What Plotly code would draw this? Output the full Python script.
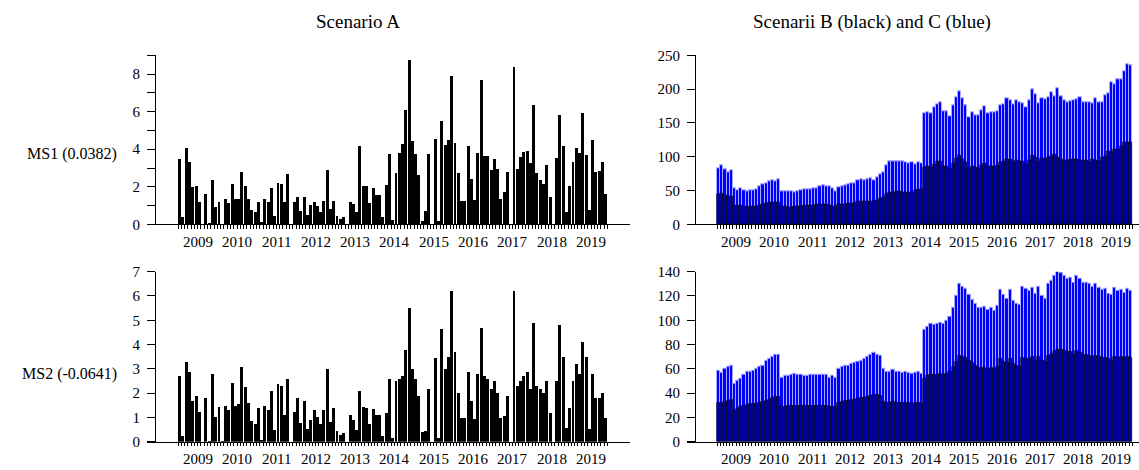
import plotly.graph_objects as go

# ---------------- data (monthly, Jan 2009 - Nov 2019) ----------------
years = list(range(2009, 2020))
n_months = 131

a_ms1 = [3.45, 0.35, 4.05, 3.3, 1.95, 2.0, 1.2, 0, 1.6, 0.05,
         2.35, 0.9, 1.2, 0, 1.35, 1.1, 2.15, 1.35, 1.35, 2.75,
         2.05, 1.35, 0.75, 0.65, 1.15, 0.1, 1.35, 1.15, 1.9, 0.45,
         2.2, 2.15, 1.15, 2.65,
         0, 1.2, 1.45, 0.7, 1.45, 0.5, 1.0, 1.2, 0.95, 0.65, 1.25,
         2.9, 0.8, 1.25, 0.45, 0.25, 0.35, 0, 1.15, 1.05, 0.65, 4.15,
         2.05, 2.0, 1.1, 1.9, 1.55, 1.55,
         0.35, 2.1, 3.75, 0.2, 2.7, 3.8, 4.25, 6.05, 8.75, 4.4,
         3.75, 2.6, 0.15, 0.7, 3.75, 0, 4.55, 0.15, 5.5, 4.2,
         4.45, 7.9, 4.3, 2.7, 1.25, 1.25, 4.15, 2.4, 1.3, 3.8,
         7.65, 3.6, 3.6, 2.9, 3.45, 2.95, 1.35, 1.7, 2.75, 0,
         8.35, 2.95, 3.55, 3.85, 3.9, 3.25, 6.35, 2.7, 2.35, 2.15,
         3.15, 1.45, 0, 3.5, 5.8, 4.15, 0.65, 2.0, 3.3, 4.05,
         3.8, 5.9, 3.65, 0.75, 4.45, 2.75, 2.85, 3.3, 1.6]

a_ms2 = [2.7, 0.25, 3.3, 2.9, 1.7, 1.9, 1.25, 0, 1.8, 0.05,
         2.8, 1.05, 1.45, 0.05, 1.5, 1.3, 2.45, 1.5, 1.55, 3.1,
         2.25, 1.6, 0.85, 0.75, 1.4, 0.07, 1.5, 1.3, 2.1, 0.5,
         2.4, 2.3, 1.13, 2.6,
         0, 1.24, 1.8, 0.8, 1.7, 0.53, 0.9, 1.3, 1.03, 0.73, 1.33,
         3.0, 0.84, 1.38, 0.47, 0.27, 0.36, 0, 1.11, 0.91, 0.51, 2.1,
         1.44, 1.4, 0.76, 1.37, 1.1, 1.1,
         0.23, 1.2, 2.6, 0.16, 2.5, 2.6, 2.7, 3.8, 5.5, 3.0,
         2.6, 1.9, 0.4, 0.47, 2.2, 0, 3.45, 0.16, 4.65, 3.0,
         3.5, 6.2, 3.7, 2.0, 0.97, 0.97, 2.9, 1.67, 0.96, 2.8,
         4.7, 2.7, 2.6, 2.2, 2.5, 2.0, 0.97, 1.07, 1.9, 0,
         6.2, 2.3, 2.5, 2.7, 2.9, 2.2, 4.9, 2.3, 2.2, 2.0,
         2.5, 1.2, 0, 2.5, 4.8, 3.5, 0.56, 1.4, 2.5, 3.2,
         2.8, 4.1, 3.5, 0.53, 2.8, 1.8, 1.8, 2.0, 0.97]

c_ms1 = [82.7, 87, 82, 77.5, 80, 53, 51, 53, 51, 48.5,
         50.4, 51, 52, 55.6, 59, 61.3, 63.7, 64.6, 64, 66,
         49, 48.5, 48.5, 49, 47.5, 49, 51, 52, 52, 52,
         53, 53, 56, 57.5, 57, 55.6, 53, 49, 55, 56.5,
         57.5, 58.5, 61, 61, 65.6, 66.5, 65, 66.5, 67.5, 65,
         69.4, 73.7, 77.5, 87, 93, 93, 93, 93.6,
         92.7, 92, 91, 92, 89, 92, 91,
         164.5, 166, 163.5, 173.5, 178, 180.6, 166.8, 166.8, 160, 176,
         187.7, 197, 186, 176, 159, 165.4, 162, 160.6, 168, 174,
         164.5, 166, 165, 166.8, 176, 178, 186, 184, 177, 183,
         181, 179, 173, 183, 199.6, 192, 179.7, 187, 185, 188,
         195, 190, 200.6, 190, 183.5, 180.6, 182, 184, 185, 187.7,
         180.6, 180.6, 181, 178.7, 186, 181, 180.6, 191.5, 194, 210,
         207, 214, 215, 225.8, 236, 235]

b_ms1 = [43.7, 45.6, 43, 41, 42, 28, 27.6, 27.6, 26.6, 25.7,
         26.6, 26.6, 27, 28.5, 29.5, 31, 32, 32.3, 32.3, 32.8,
         26, 26, 25.7, 25.7, 26, 26.6, 27, 27.6, 27.6, 27.6,
         28, 29, 29.5, 29.5, 29, 28.5, 27, 26, 29, 29.5,
         30, 30.4, 31.4, 31.4, 33.7, 34.2, 33.7, 34.2, 34.7, 34.2,
         36, 38.5, 40, 44, 47.5, 48, 48.5, 48.5,
         48, 48, 47.5, 46.5, 50, 52, 52,
         85, 86.5, 84.6, 89.4, 92.7, 93.6, 86.5, 86.5, 83, 90.3,
         97.4, 101.7, 95.5, 91.7, 83, 86, 84.6, 83, 88, 90.3,
         85.5, 86, 85.5, 87, 91.7, 92.7, 96, 95.5, 91.7, 94,
         93.6, 93, 89.4, 94, 102.7, 98.9, 93, 97.4, 96.5, 99.8,
         100.3, 104, 98.9, 95.5, 94, 94.6, 95.5, 96, 96.5, 94,
         94.6, 94.6, 91.7, 95.5, 94, 93.6, 98.9, 100.3, 108, 107,
         110.7, 111.7, 115.5, 121, 122, 121.7]

c_ms2 = [58.3, 56.7, 60.4, 61.7, 62.3, 47.4, 50, 52.2, 54.8, 57.8,
         58, 58.8, 60.2, 61.7, 63, 67, 68.4, 69.7, 71.9, 72,
         52.4, 54, 54.6, 55.4, 56.2, 54.8, 55, 54.6, 54.3, 55.4,
         55, 55,
         55, 55.5, 55, 53, 54, 53, 60, 62, 63, 63,
         64, 65, 66, 67, 68, 70, 72, 73, 72, 71,
         60, 58, 58, 59, 58, 58, 57, 58, 57, 56,
         57, 58, 56,
         92, 95, 97, 96, 97, 98, 97, 100, 103, 110, 120, 130,
         128, 126, 121, 117, 114, 110, 110, 111, 109, 110, 108, 112,
         125, 121, 118, 125, 116, 114, 113, 128, 126, 124, 127, 122,
         128, 120, 118, 130, 133, 137, 140, 139, 137, 134, 135, 131,
         137, 134, 131, 131, 130, 128, 130, 127, 125, 126, 122, 121,
         127, 124, 125, 123, 126, 124]

b_ms2 = [32.2, 31.7, 33.3, 34, 34.3, 25.8, 26.9, 28.5, 29.5, 30.6,
         30.9, 30.9, 31.4, 32.2, 33, 34, 34.9, 35.9, 36.7, 36.7,
         28.5, 29, 29.5, 29.5, 29.5, 29.3, 29.5, 29.3, 29.3, 29.5,
         29.5, 29.5,
         29.5, 29.8, 29.5, 28.5, 29, 28.5, 32, 33, 33.5, 34,
         34.5, 35, 35.5, 36, 36.5, 37, 38, 39, 38.5, 38,
         33, 32.5, 32.5, 33, 32.5, 32.5, 32, 32.5, 32, 31.5,
         32, 32.5, 31.5,
         52, 54, 55, 55, 55, 56, 55, 56, 58, 62, 66, 71,
         70, 69, 67, 65, 63, 61, 61, 61, 60, 61, 60, 62,
         68, 66, 65, 68, 64, 63, 62, 69, 68, 68, 70, 67,
         70, 67, 66, 71, 72, 74, 76, 76, 75, 74, 74, 72,
         75, 73, 72, 72, 71, 70, 71, 70, 69, 69, 68, 67,
         70, 69, 70, 69, 70, 69]

title_left = "Scenario A"
title_right = "Scenarii B (black) and C (blue)"
row_labels = ["MS1 (0.0382)", "MS2 (-0.0641)"]

# ---------------- figure ----------------
W, H = 1139, 470
FONT = "Liberation Serif"
FS = 15
FS_ROW = 16
FS_TITLE = 19

xs = [i + 0.5 for i in range(n_months)]

def px(v):
    return v / W

def py(v):
    return 1 - v / H

fig = go.Figure()

fig.add_trace(go.Bar(x=xs, y=a_ms1, xaxis="x", yaxis="y", width=0.9,
                     marker=dict(color="black", line=dict(width=0)), showlegend=False))
fig.add_trace(go.Bar(x=xs, y=c_ms1, xaxis="x2", yaxis="y2", width=1.0,
                     marker=dict(color="#0000ff", line=dict(color="#a9a9ff", width=1)), showlegend=False))
fig.add_trace(go.Bar(x=xs, y=b_ms1, xaxis="x2", yaxis="y2", width=1.0,
                     marker=dict(color="#0000a8", line=dict(color="black", width=0.6)), showlegend=False))
fig.add_trace(go.Bar(x=xs, y=a_ms2, xaxis="x3", yaxis="y3", width=0.9,
                     marker=dict(color="black", line=dict(width=0)), showlegend=False))
fig.add_trace(go.Bar(x=xs, y=c_ms2, xaxis="x4", yaxis="y4", width=1.0,
                     marker=dict(color="#0000ff", line=dict(color="#a9a9ff", width=1)), showlegend=False))
fig.add_trace(go.Bar(x=xs, y=b_ms2, xaxis="x4", yaxis="y4", width=1.0,
                     marker=dict(color="#0000a8", line=dict(color="black", width=0.6)), showlegend=False))

year_starts = [12 * k for k in range(1, len(years))]

def xaxis_cfg(dom_px, first_px, scale, anchor):
    lo = (dom_px[0] - first_px) / scale
    hi = (dom_px[1] - first_px) / scale
    return dict(domain=[px(dom_px[0]), px(dom_px[1])], range=[lo, hi], anchor=anchor,
                showline=True, linecolor="black", linewidth=1, mirror=False,
                showgrid=False, zeroline=False,
                tickmode="array", tickvals=year_starts, ticktext=[""] * len(year_starts),
                ticks="outside", ticklen=7, tickwidth=1, tickcolor="black",
                minor=dict(tickmode="array", tickvals=list(range(0, n_months + 1)),
                           ticks="outside", ticklen=3.5, tickwidth=1, tickcolor="black",
                           showgrid=False),
                fixedrange=True)

def yaxis_cfg(dom_px, rng, tickvals, ticktext, pos_px):
    return dict(domain=[py(dom_px[1]), py(dom_px[0])], range=rng, anchor="free",
                position=px(pos_px), showline=True, linecolor="black", linewidth=1,
                showgrid=False, zeroline=False, tickmode="array", tickvals=tickvals,
                ticktext=ticktext, ticks="outside", ticklen=8, tickwidth=1,
                tickcolor="black", ticklabelstandoff=4,
                tickfont=dict(family=FONT, size=FS, color="black"), fixedrange=True)

top_row = (49, 224)
bot_row = (273, 449)
left_dom = (147, 630)
right_dom = (687, 1139)
left_first, left_scale = 178, 3.278
right_first, right_scale = 717, 3.17

fig.update_layout(
    width=W, height=H, margin=dict(l=0, r=0, t=0, b=0),
    paper_bgcolor="white", plot_bgcolor="rgba(0,0,0,0)",
    barmode="overlay", bargap=0,
    font=dict(family=FONT, size=FS, color="black"),
    xaxis=xaxis_cfg(left_dom, left_first, left_scale, "y"),
    xaxis2=xaxis_cfg(right_dom, right_first, right_scale, "y2"),
    xaxis3=xaxis_cfg(left_dom, left_first, left_scale, "y3"),
    xaxis4=xaxis_cfg(right_dom, right_first, right_scale, "y4"),
    yaxis=yaxis_cfg(top_row, [0, 9], list(range(10)),
                    [str(v) if v % 2 == 0 else "" for v in range(10)], 155),
    yaxis2=yaxis_cfg(top_row, [0, 250], list(range(0, 251, 50)),
                     [str(v) for v in range(0, 251, 50)], 695),
    yaxis3=yaxis_cfg(bot_row, [0, 7], list(range(8)),
                     [str(v) for v in range(8)], 155),
    yaxis4=yaxis_cfg(bot_row, [0, 140], list(range(0, 141, 20)),
                     [str(v) for v in range(0, 141, 20)], 695),
)

annotations = []
for xa, ya, shift in [("x", "y", -18), ("x2", "y2", -18), ("x3", "y3", -17), ("x4", "y4", -17)]:
    for k, yr in enumerate(years):
        annotations.append(dict(x=12 * k + 6, y=0, xref=xa, yref=ya + " domain",
                                text=str(yr), showarrow=False, yshift=shift,
                                xanchor="center", yanchor="middle",
                                font=dict(family=FONT, size=FS, color="black")))

annotations.append(dict(x=px(358), y=py(14), xref="paper", yref="paper", text=title_left,
                        showarrow=False, xanchor="center", yanchor="middle",
                        font=dict(family=FONT, size=FS_TITLE, color="black")))
annotations.append(dict(x=px(872), y=py(14), xref="paper", yref="paper", text=title_right,
                        showarrow=False, xanchor="center", yanchor="middle",
                        font=dict(family=FONT, size=FS_TITLE, color="black")))
annotations.append(dict(x=px(119), y=py(151), xref="paper", yref="paper", text=row_labels[0],
                        showarrow=False, xanchor="right", yanchor="middle",
                        font=dict(family=FONT, size=FS_ROW, color="black")))
annotations.append(dict(x=px(119), y=py(379), xref="paper", yref="paper", text=row_labels[1],
                        showarrow=False, xanchor="right", yanchor="middle",
                        font=dict(family=FONT, size=FS_ROW, color="black")))

fig.update_layout(annotations=annotations)

fig.write_html("out.html", config={"displayModeBar": False})
